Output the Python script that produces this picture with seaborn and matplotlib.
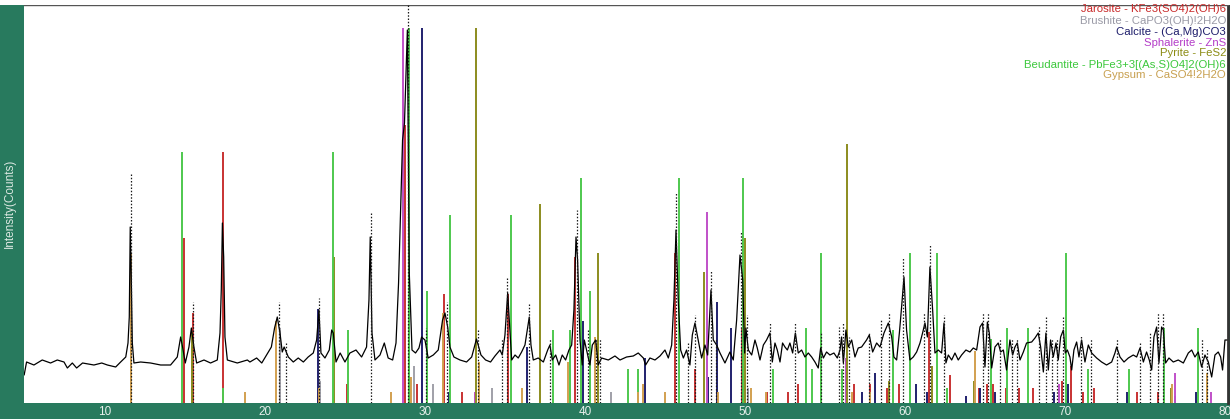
import numpy as np
import pandas as pd
import matplotlib
matplotlib.use("Agg")
import matplotlib.pyplot as plt
from matplotlib.patches import Rectangle
from matplotlib.ticker import MultipleLocator
import seaborn as sns

# ---------------- data ----------------
two_theta = [4.95, 5.1, 5.56, 6.08, 6.6, 7.02, 7.44, 7.65, 7.96, 8.23, 8.6, 9.31, 9.8, 10.15, 10.67, 10.98,
             11.3, 11.44, 11.52, 11.58, 11.65, 11.71, 11.81, 12.23, 12.85, 13.48, 14.1, 14.52, 14.73, 14.85,
             15.02, 15.25, 15.4, 15.56, 15.73, 16.19, 16.6, 17.02, 17.19, 17.27, 17.34, 17.42, 17.5, 17.65,
             18.27, 18.9, 19.06, 19.48, 19.8, 20.1, 20.4, 20.6, 20.77, 20.94, 21.08, 21.2, 21.46, 21.77,
             22.08, 22.4, 22.7, 23.02, 23.23, 23.375, 23.5, 23.75, 24.02, 24.17, 24.27, 24.44, 24.7, 25.0,
             25.31, 25.69, 26.04, 26.35, 26.5, 26.58, 26.69, 26.875, 27.19, 27.46, 27.7, 27.98, 28.19, 28.35,
             28.48, 28.6, 28.72, 28.9, 29.02, 29.19, 29.41, 29.625, 29.79, 30.0, 30.2, 30.52, 30.83, 31.1,
             31.25, 31.42, 31.56, 31.81, 32.19, 32.6, 32.92, 33.22, 33.5, 33.79, 34.1, 34.375, 34.69, 34.83,
             35.0, 35.17, 35.31, 35.42, 35.63, 35.83, 36.04, 36.25, 36.42, 36.52, 36.625, 36.77, 37.08, 37.4,
             37.67, 37.81, 37.96, 38.17, 38.375, 38.58, 38.79, 39.0, 39.17, 39.31, 39.44, 39.54, 39.69, 39.83,
             39.96, 40.1, 40.31, 40.46, 40.67, 40.83, 41.04, 41.46, 41.875, 42.19, 42.6, 43.02, 43.33, 43.65,
             43.79, 44.06, 44.375, 44.69, 45.0, 45.21, 45.42, 45.56, 45.69, 45.83, 45.98, 46.15, 46.35, 46.56,
             46.71, 46.875, 47.08, 47.29, 47.5, 47.67, 47.875, 48.02, 48.23, 48.44, 48.75, 49.06, 49.27,
             49.48, 49.69, 49.86, 49.98,
             50.06, 50.21, 50.42, 50.625, 50.77, 50.94, 51.15, 51.35, 51.56, 51.71, 51.875, 52.02, 52.19,
             52.35, 52.5, 52.65, 52.81, 52.98, 53.15, 53.33, 53.54, 53.75, 53.96, 54.17, 54.375, 54.58,
             54.73, 54.9, 55.1, 55.31, 55.56, 55.77, 55.94, 56.04, 56.15, 56.31, 56.46, 56.67, 56.875,
             57.08, 57.29, 57.6, 57.77, 57.98, 58.23, 58.44, 58.69, 58.96, 59.17, 59.31, 59.48, 59.65,
             59.79, 59.94, 60.1, 60.31, 60.52, 60.73, 60.94, 61.1, 61.25, 61.4, 61.56, 61.73, 61.875,
             62.08, 62.29, 62.44, 62.56, 62.71, 62.92, 63.125, 63.33, 63.54, 63.81, 64.06, 64.27, 64.48,
             64.69, 64.85, 65.0, 65.15, 65.27, 65.42, 65.625, 65.83, 65.98, 66.15, 66.35, 66.56, 66.73,
             66.875, 67.02, 67.19, 67.4, 67.6, 67.92, 68.125, 68.33, 68.48, 68.65, 68.81, 68.96, 69.1,
             69.27, 69.44, 69.58, 69.73, 69.9, 70.02, 70.15, 70.31, 70.42, 70.56, 70.73, 70.875, 71.04,
             71.25, 71.46, 71.67, 71.98, 72.29, 72.6, 72.92, 73.125, 73.23, 73.44, 73.69, 73.96, 74.27,
             74.48, 74.69, 74.9, 75.1, 75.27, 75.42, 75.56, 75.73, 75.875, 76.04, 76.15, 76.29, 76.5,
             76.77, 77.08, 77.4, 77.71, 77.92, 78.125, 78.33, 78.54, 78.75, 78.96, 79.17, 79.375, 79.58,
             79.73, 79.85, 80.0, 80.19]
counts = [140, 205, 190, 215, 200, 215, 205, 175, 200, 175, 200, 190, 200, 190, 180, 205,
          230, 300, 430, 880, 600, 300, 200, 205, 200, 190, 190, 230, 330, 280,
          200, 280, 375, 280, 200, 215, 200, 215, 350, 565, 900, 730, 330, 215,
          200, 215, 205, 225, 200, 240, 280, 375, 430, 350, 255, 280, 230, 205,
          225, 205, 230, 250, 315, 465, 250, 225, 265, 365, 350, 205, 250, 205,
          250, 265, 230, 280, 515, 830, 350, 215, 240, 300, 225, 215, 300, 600,
          980, 1315, 1400, 1865, 650, 265, 250, 275, 330, 315, 225, 240, 265, 415,
          450, 380, 280, 230, 215, 205, 230, 320, 240, 215, 205, 235, 265, 240,
          340, 550, 365, 215, 240, 225, 255, 290, 380, 430, 290, 215, 225, 205,
          265, 290, 215, 240, 190, 240, 215, 265, 290, 465, 830, 715, 315, 190,
          315, 265, 190, 290, 315, 190, 225, 215, 235, 215, 230, 235, 250, 225,
          190, 225, 215, 235, 265, 225, 290, 515, 865, 515, 265, 225, 265, 190,
          340, 400, 315, 225, 290, 240, 565, 315, 290, 250, 200, 255, 215,
          415, 740, 615, 250,
          375, 265, 240, 315, 275, 215, 290, 315, 350, 205, 300, 265, 205,
          300, 280, 265, 300, 250, 350, 250, 265, 230, 250, 230, 205, 175,
          275, 225, 255, 240, 250, 225, 265, 330, 200, 365, 280, 315, 230,
          275, 280, 315, 340, 255, 300, 280, 350, 400, 330, 230, 215, 350,
          480, 630, 365, 215, 230, 255, 300, 350, 400, 330, 680, 465, 250,
          265, 250, 400, 200, 240, 215, 250, 215, 240, 265, 255, 275, 265,
          380, 400, 180, 405, 350, 175, 280, 300, 255, 265, 165, 315, 240,
          280, 300, 215, 255, 300, 305, 325, 350, 280, 155, 350, 165, 315,
          230, 300, 215, 330, 365, 250, 265, 230, 165, 265, 305, 230, 315,
          205, 290, 250, 225, 205, 190, 205, 250, 280, 230, 205, 225, 240,
          230, 275, 205, 255, 215, 165, 330, 380, 200, 380, 365, 200, 225,
          205, 215, 200, 250, 265, 230, 255, 180, 240, 205, 130, 240, 255,
          230, 165, 315, 315]

# reference patterns: position (2theta) and relative intensity (%)
jarosite_pos = [14.95, 15.5, 17.4, 23.3, 25.1, 28.75, 29.5, 31.2, 32.3, 35.2, 39.4, 45.65, 46.9, 49.8,
                51.4, 52.7, 53.3, 56.8, 57.8, 58.9, 59.6, 61.5, 62.8, 64.6, 65.1, 65.5, 66.3, 67.1,
                68.0, 69.8, 70.4, 71.1, 71.8, 74.5, 75.8]
jarosite_rel = [44, 24, 67, 2, 5, 74, 5, 29, 3, 29, 39, 40, 9, 20,
                3, 3, 5, 5, 5, 4, 5, 19, 7.5, 4, 5, 5, 4, 4,
                4, 6, 10, 3, 4, 3, 3]
brushite_pos = [11.65, 20.95, 23.45, 29.3, 30.5, 34.2, 41.6, 50.2]
brushite_rel = [30, 20, 6, 10, 5, 4, 3, 4]
calcite_pos = [23.33, 29.8, 31.5, 36.35, 39.9, 43.75, 47.67, 48.23, 49.13, 57.3, 58.1, 60.7, 61.4,
               63.8, 64.7, 65.6, 69.3, 70.2, 73.9, 76.9, 78.2]
calcite_rel = [25, 100, 3, 15, 22, 12, 7, 27, 20, 3, 8, 5, 3, 2, 4, 3, 3, 5, 3, 2, 3]
sphalerite_pos = [28.6, 33.1, 47.6, 56.3, 69.65, 76.9, 79.1]
sphalerite_rel = [100, 3, 51, 12, 5, 8, 3]
pyrite_pos = [15.45, 24.3, 29.05, 33.2, 37.2, 40.8, 47.45, 50.0, 56.38, 59.0, 61.7, 64.3, 76.6, 78.9]
pyrite_rel = [19, 39, 7, 100, 53, 40, 35, 44, 69, 6, 10, 6, 4, 5]
beudantite_pos = [14.8, 17.35, 24.27, 25.2, 29.0, 30.1, 31.56, 35.35, 38.0, 39.06, 39.75, 40.31, 42.67,
                  43.33, 45.9, 49.9, 51.73, 53.8, 54.2, 54.75, 56.06, 59.27, 60.31, 61.98, 62.6, 65.4,
                  66.4, 67.71, 70.06, 71.46, 74.02, 76.21, 78.29]
beudantite_rel = [67, 4, 67, 19.5, 100, 30, 50, 50, 19.5, 19.5, 60, 30, 9,
                  9, 60, 60, 9, 20, 9, 40, 9, 19.5, 40, 40, 4, 17,
                  20, 20, 40, 9, 9, 20, 20]
gypsum_pos = [11.6, 18.75, 20.7, 23.4, 27.9, 29.1, 31.14, 33.38, 36.04, 38.96, 40.6, 43.33, 43.6, 45.0,
              48.3, 50.4, 51.3, 56.7, 57.8, 64.4, 76.7, 78.9]
gypsum_rel = [40, 3, 22, 4, 3, 7, 24, 11, 4, 11, 17.6, 3, 5, 3,
              3, 4, 3, 3, 3, 14, 5, 8]

# dotted peak markers of the measured pattern
marker_pos = [11.62, 15.5, 20.85, 21.3, 23.4, 26.6, 28.95, 30.05, 31.35, 33.29, 34.79, 35.15, 36.5,
              37.8, 39.48, 40.2, 40.67, 40.96, 45.7, 46.46, 46.9, 47.85, 48.17, 49.73, 50.15, 51.56,
              53.15, 54.75, 55.9, 56.1, 56.5, 57.75, 58.5, 59.0, 59.9, 61.2, 61.55, 62.45, 64.9, 65.2,
              65.95, 66.7, 67.0, 68.4, 68.8, 69.2, 69.5, 69.9, 71.0, 71.6, 73.25, 74.7, 75.3, 75.8,
              76.15, 78.55, 78.9]
marker_top = [1150, 505, 505, 305, 525, 950, 1995, 375, 505, 365, 325, 630, 500,
              325, 965, 365, 325, 325, 1055, 305, 440, 665, 325, 855, 440, 405,
              405, 350, 380, 400, 330, 350, 415, 455, 730, 455, 790, 440, 455, 455,
              325, 325, 325, 390, 430, 325, 325, 430, 340, 325, 325, 305, 350, 455,
              455, 325, 275]

phase_labels = ["Jarosite - KFe3(SO4)2(OH)6", "Brushite - CaPO3(OH)!2H2O", "Calcite - (Ca,Mg)CO3",
                "Sphalerite - ZnS", "Pyrite - FeS2", "Beudantite - PbFe3+3[(As,S)O4]2(OH)6",
                "Gypsum - CaSO4!2H2O"]
x_ticks = [10, 20, 30, 40, 50, 60, 70, 80]
y_label = "Intensity(Counts)"

# ---------------- style ----------------
W, H = 1230, 419
GREEN = "#287a5e"
phase_colors = ["#c83232", "#a0a0a8", "#20206e", "#c050c8", "#8c8c1e", "#4ec84e", "#d2a050"]
text_colors = ["#c82828", "#9a9aa6", "#1c1c6a", "#b43cc8", "#8c8c14", "#3cc83c", "#c8a050"]
STICK_FULL = 1875.0  # counts corresponding to 100 %

sns.set_style("white")
plt.rcParams["font.family"] = ["Liberation Sans", "DejaVu Sans"]

fig = plt.figure(figsize=(W / 100, H / 100), dpi=100, facecolor=GREEN)
ax = fig.add_axes([24 / W, 16 / H, 1204 / W, 398 / H])
ax.set_facecolor("white")
fig.patches.append(Rectangle((0, 414 / H), 1, 5 / H, transform=fig.transFigure,
                             facecolor="white", edgecolor="none", zorder=0))

phases = [(jarosite_pos, jarosite_rel), (brushite_pos, brushite_rel), (calcite_pos, calcite_rel),
          (sphalerite_pos, sphalerite_rel), (pyrite_pos, pyrite_rel),
          (beudantite_pos, beudantite_rel), (gypsum_pos, gypsum_rel)]
for (pos, rel), col in zip(phases, phase_colors):
    ax.vlines(pos, 0, np.asarray(rel) / 100.0 * STICK_FULL, colors=col, linewidth=1.4, zorder=1)

df = pd.DataFrame({"two_theta": two_theta, "counts": counts})
sns.lineplot(data=df, x="two_theta", y="counts", color="black", linewidth=0.9,
             estimator=None, sort=False, ax=ax, zorder=2)

ax.vlines(marker_pos, 0, marker_top, colors="#1a1a1a", linestyles=(0, (1.2, 1.4)),
          linewidth=0.9, zorder=3)

ax.set_xlim(4.94, 80.19)
ax.set_ylim(0, 1990)
ax.set_xlabel("")
ax.set_ylabel("")
ax.set_yticks([])
ax.set_xticks(x_ticks)
ax.set_xticklabels([str(t) for t in x_ticks])
ax.xaxis.set_minor_locator(MultipleLocator(2))
ax.tick_params(axis="x", which="major", length=0, pad=2.5, labelsize=8.5, labelcolor="#e8f0ec")
ax.tick_params(axis="x", which="minor", length=3, width=0.8, color="#e8f0ec", direction="out")

for side in ["left", "bottom"]:
    ax.spines[side].set_visible(False)
ax.spines["top"].set_color("#555555")
ax.spines["top"].set_linewidth(1.0)
ax.spines["right"].set_color("#333333")
ax.spines["right"].set_linewidth(2.0)

fig.text(10 / W, 1 - 203 / H, y_label, rotation=90, ha="center", va="center",
         color="#dce8e2", fontsize=8.5)

for i, (lab, col) in enumerate(zip(phase_labels, text_colors)):
    fig.text(1226 / W, 1 - (9.5 + 11 * i) / H, lab, ha="right", va="center", color=col, fontsize=8.2)

fig.savefig("out.png", dpi=100, facecolor=GREEN)
